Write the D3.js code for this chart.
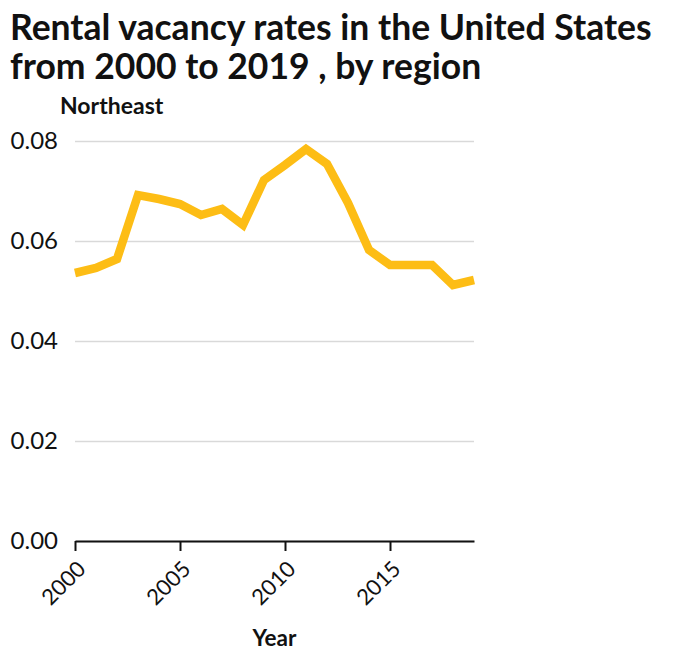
<!DOCTYPE html>
<html>
<head>
<meta charset="utf-8">
<script src="https://cdn.jsdelivr.net/npm/d3@7"></script>
<style>
  body { margin: 0; background: #fff; font-family: Lato, "Open Sans", sans-serif; }
  .axis text { font-family: Lato, sans-serif; fill: #111; }
</style>
</head>
<body>
<svg id="chart" width="674" height="662"></svg>
<script>
const years = [2000, 2001, 2002, 2003, 2004, 2005, 2006, 2007, 2008, 2009,
               2010, 2011, 2012, 2013, 2014, 2015, 2016, 2017, 2018, 2019];
const vacancy = [0.0536, 0.0546, 0.0564, 0.0692, 0.0684, 0.0674, 0.0652, 0.0664, 0.0632, 0.0722,
                 0.0752, 0.0784, 0.0754, 0.0676, 0.0582, 0.0552, 0.0552, 0.0552, 0.0512, 0.0522];
const yTicks = [0, 0.02, 0.04, 0.06, 0.08];
const xTicks = [2000, 2005, 2010, 2015];

const margin = {top: 141, right: 200, bottom: 121, left: 75},
      width = 674 - margin.left - margin.right,
      height = 662 - margin.top - margin.bottom;

const svg = d3.select("#chart");

// title
svg.append("text")
    .attr("x", 10).attr("y", 40)
    .attr("font-size", 35.5).attr("font-weight", "bold")
    .attr("fill", "#111")
    .text("Rental vacancy rates in the United States");
svg.append("text")
    .attr("x", 10).attr("y", 79)
    .attr("font-size", 35.5).attr("font-weight", "bold")
    .attr("fill", "#111")
    .text("from 2000 to 2019 , by region");

const g = svg.append("g")
    .attr("transform", "translate(" + margin.left + "," + margin.top + ")");

const x = d3.scaleLinear().domain([2000, 2019]).range([0, width]);
const y = d3.scaleLinear().domain([0, 0.08]).range([height, 0]);

// grid + y labels
const axisY = g.append("g")
    .attr("class", "axis axis--y")
    .call(d3.axisLeft(y).tickValues(yTicks).tickFormat(d3.format(".2f"))
      .tickSizeInner(-width).tickSizeOuter(0).tickPadding(17));
axisY.select(".domain").remove();
axisY.selectAll(".tick line").attr("stroke", "#d9d9d9").attr("stroke-width", 1.5);
axisY.selectAll(".tick text").attr("font-size", 24);

svg.append("text")
    .attr("x", 60).attr("y", 114)
    .attr("font-size", 23).attr("font-weight", "bold")
    .attr("fill", "#111")
    .text("Northeast");

// x axis
const axisX = g.append("g")
    .attr("class", "axis axis--x")
    .attr("transform", "translate(0," + height + ")")
    .call(d3.axisBottom(x).tickValues(xTicks).tickFormat(d3.format("d"))
      .tickSizeInner(10).tickSizeOuter(0));
axisX.select(".domain").attr("stroke", "#111").attr("stroke-width", 2);
axisX.selectAll(".tick line").attr("stroke", "#111").attr("stroke-width", 2);
axisX.selectAll(".tick text")
    .attr("font-size", 22)
    .attr("text-anchor", "end")
    .attr("dy", "0.35em")
    .attr("transform", "translate(6,24) rotate(-45)")
    .attr("y", 0).attr("x", 0);

svg.append("text")
    .attr("x", margin.left + width / 2)
    .attr("y", 646)
    .attr("text-anchor", "middle")
    .attr("font-size", 22.5).attr("font-weight", "bold")
    .attr("fill", "#111")
    .text("Year");

// line
const line = d3.line()
    .x((d, i) => x(years[i]))
    .y(d => y(d));

g.append("path")
    .datum(vacancy)
    .attr("fill", "none")
    .attr("stroke", "#fdbd15")
    .attr("stroke-width", 8.5)
    .attr("stroke-linejoin", "miter")
    .attr("d", line);
</script>
</body>
</html>
